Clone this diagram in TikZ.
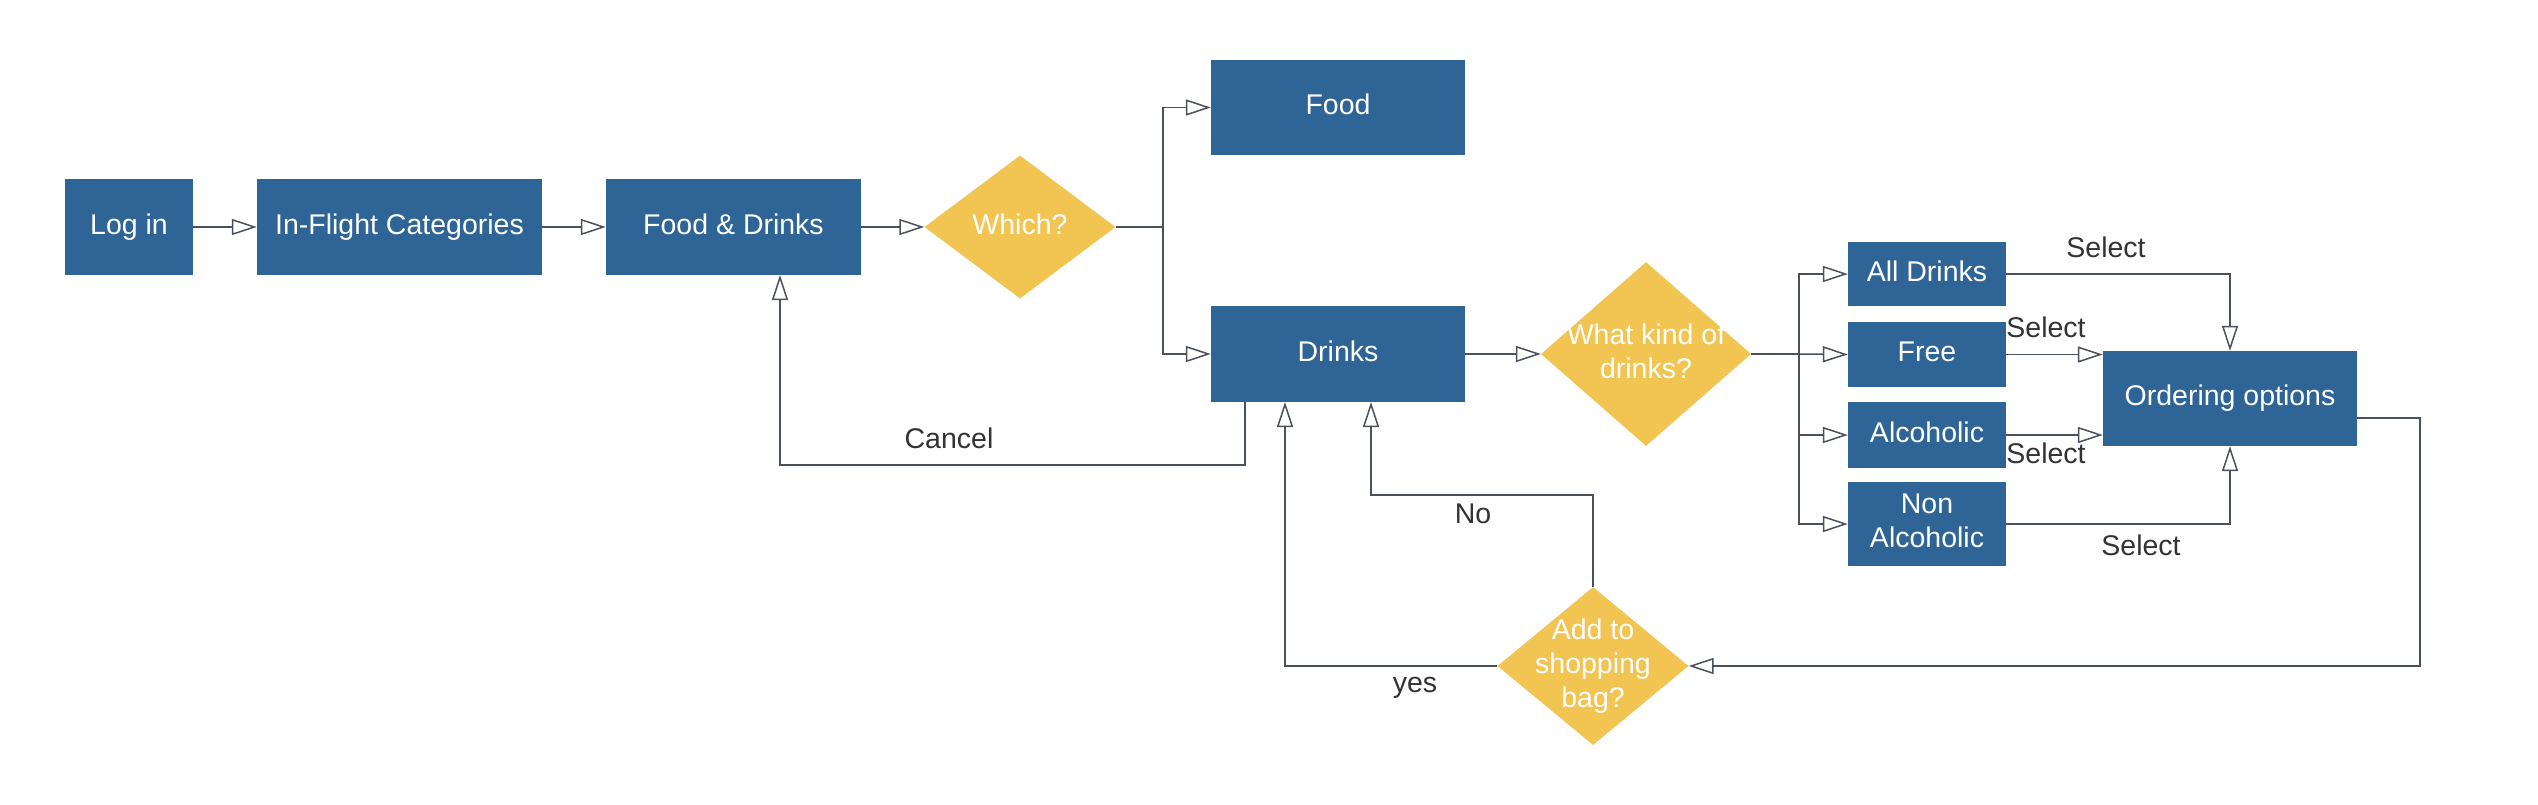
\documentclass[tikz,border=0pt]{standalone}
\usepackage{fontspec}
\setmainfont{Liberation Sans}
\usetikzlibrary{arrows.meta,shapes.geometric}
\definecolor{boxblue}{HTML}{2E6496}
\definecolor{decyellow}{HTML}{F2C451}
\definecolor{linegray}{HTML}{4A505C}
\definecolor{labgray}{HTML}{333333}
\newcommand\dfont{\fontsize{28.5}{34}\selectfont}
\begin{document}
\begin{tikzpicture}[x=1pt,y=-1pt,
  box/.style={rectangle, fill=boxblue, text=white, font=\dfont, inner sep=0pt, align=center, text depth=6pt},
  dec/.style={diamond, fill=decyellow, inner sep=0pt},
  dectext/.style={text=white, font=\dfont, inner sep=0pt, align=center, text depth=6pt},
  lab/.style={text=labgray, font=\dfont, inner sep=0pt, align=center},
  ln/.style={draw=linegray, line width=1.5pt},
  arr/.style={ln, -{Triangle[open, length=25pt, width=16pt]}}]
\fill[white] (0,0) rectangle (2538,804);
\useasboundingbox (0,0) rectangle (2538,804);
% boxes
\node[box, minimum width=128pt, minimum height=96pt] (login) at (129,227) {Log in};
\node[box, minimum width=285pt, minimum height=96pt] (ifc) at (399.5,227) {In-Flight Categories};
\node[box, minimum width=255pt, minimum height=96pt] (fd) at (733.5,227) {Food \& Drinks};
\node[dec, minimum width=191pt, minimum height=143pt, label={[dectext]center:Which?}] (which) at (1020,227) {};
\node[box, minimum width=254pt, minimum height=95pt] (food) at (1338,107.5) {Food};
\node[box, minimum width=254pt, minimum height=96pt] (drinks) at (1338,354) {Drinks};
\node[dec, minimum width=210pt, minimum height=184pt, label={[dectext]center:What kind of\\drinks?}] (wk) at (1646,354) {};
\node[box, minimum width=158pt, minimum height=64pt] (alld) at (1927,274) {All Drinks};
\node[box, minimum width=158pt, minimum height=65pt] (free) at (1927,354.5) {Free};
\node[box, minimum width=158pt, minimum height=66pt] (alc) at (1927,435) {Alcoholic};
\node[box, minimum width=158pt, minimum height=84pt] (non) at (1927,524) {Non\\Alcoholic};
\node[box, minimum width=254pt, minimum height=95pt] (ord) at (2230,398.5) {Ordering options};
\node[dec, minimum width=191pt, minimum height=158pt, label={[dectext]center:Add to\\shopping\\bag?}] (bag) at (1593,666) {};
% helper coordinates
\coordinate (br1) at (1163,227);
\coordinate (br2) at (1799,354);
\coordinate (cstart) at (1245,402);
\coordinate (fdend) at (780,275);
\coordinate (yesend) at (1285,402);
\coordinate (noend) at (1371,402);
\coordinate (ordout) at (2357,418);
\coordinate (ordturn) at (2420,418);
% connectors
\draw[arr] (login.east) -- (ifc.west);
\draw[arr] (ifc.east) -- (fd.west);
\draw[arr] (fd.east) -- (which.west);
\draw[ln] (which.east) -- (br1);
\draw[arr] (br1) |- (food.west);
\draw[arr] (br1) |- (drinks.west);
\draw[arr] (drinks.east) -- (wk.west);
\draw[ln] (wk.east) -- (br2);
\draw[arr] (br2) |- (alld.west);
\draw[arr] (br2) -- (free.west);
\draw[arr] (br2) |- (alc.west);
\draw[arr] (br2) |- (non.west);
\draw[arr] (alld.east) -| (ord.north);
\draw[arr] (free.east) -- (free.east -| ord.west);
\draw[arr] (alc.east) -- (alc.east -| ord.west);
\draw[arr] (non.east) -| (ord.south);
\draw[arr] (ordout) -- (ordturn) |- (bag.east);
\draw[arr] (bag.west) -| (yesend);
\draw[arr] (bag.north) -- ++(0,-92) -| (noend);
\draw[arr] (cstart) -- ++(0,63) -| (fdend);
% labels
\node[lab] (lcancel) at (949,438) {Cancel};
\node[lab] (lno) at (1473,514) {No};
\node[lab] (lyes) at (1415,688) {yes};
\node[lab] (ls1) at (2106,247) {Select};
\node[lab] (ls2) at (2046,327) {Select};
\node[lab] (ls3) at (2046,453) {Select};
\node[lab] (ls4) at (2141,545) {Select};
\end{tikzpicture}
\end{document}
